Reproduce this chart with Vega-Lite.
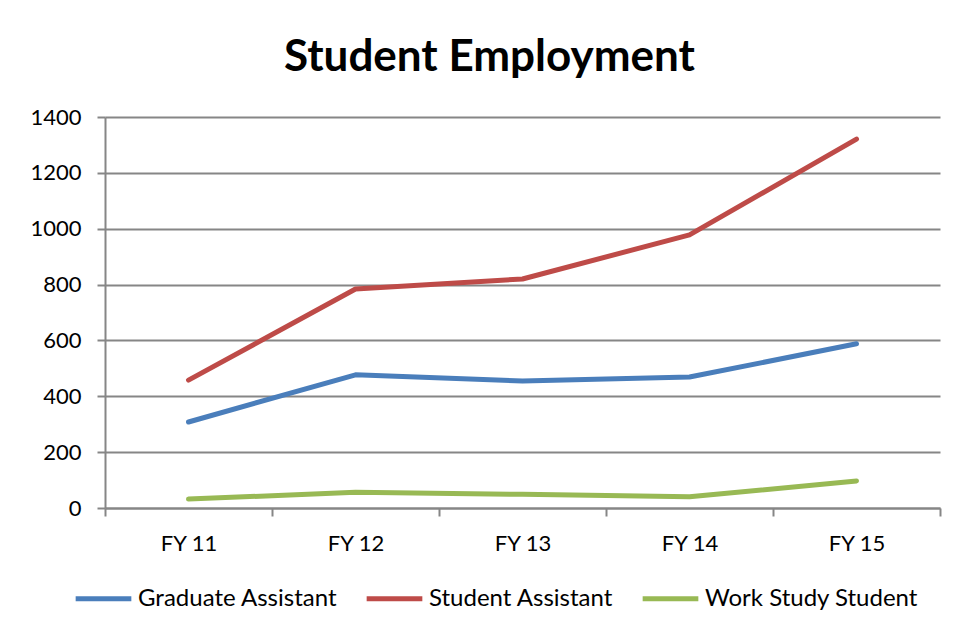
{
  "$schema": "https://vega.github.io/schema/vega-lite/v6.json",
  "width": 835,
  "height": 391,
  "autosize": {"type": "none"},
  "padding": {"left": 105, "top": 117, "right": 19, "bottom": 129},
  "background": "white",
  "title": {
    "text": "Student Employment",
    "font": "Lato",
    "fontSize": 44,
    "fontWeight": "bold",
    "color": "#000000",
    "anchor": "middle",
    "dx": -33,
    "offset": 26
  },
  "data": {
    "values": [
      {"year": "FY 11", "series": "Graduate Assistant", "value": 308},
      {"year": "FY 12", "series": "Graduate Assistant", "value": 477},
      {"year": "FY 13", "series": "Graduate Assistant", "value": 455},
      {"year": "FY 14", "series": "Graduate Assistant", "value": 469},
      {"year": "FY 15", "series": "Graduate Assistant", "value": 588},
      {"year": "FY 11", "series": "Student Assistant", "value": 458},
      {"year": "FY 12", "series": "Student Assistant", "value": 784},
      {"year": "FY 13", "series": "Student Assistant", "value": 820},
      {"year": "FY 14", "series": "Student Assistant", "value": 978},
      {"year": "FY 15", "series": "Student Assistant", "value": 1321},
      {"year": "FY 11", "series": "Work Study Student", "value": 32},
      {"year": "FY 12", "series": "Work Study Student", "value": 56},
      {"year": "FY 13", "series": "Work Study Student", "value": 49},
      {"year": "FY 14", "series": "Work Study Student", "value": 40},
      {"year": "FY 15", "series": "Work Study Student", "value": 97}
    ]
  },
  "mark": {"type": "line", "strokeWidth": 5, "strokeCap": "round", "strokeJoin": "round"},
  "encoding": {
    "x": {
      "field": "year",
      "type": "ordinal",
      "scale": {"type": "band", "paddingInner": 0, "paddingOuter": 0},
      "axis": {
        "title": null,
        "labelAngle": 0,
        "labelFont": "Lato",
        "labelFontSize": 22,
        "labelColor": "#000000",
        "labelPadding": 17,
        "domainColor": "#868686",
        "domainWidth": 2,
        "tickColor": "#868686",
        "tickWidth": 2,
        "tickSize": 8,
        "tickBand": "extent",
        "grid": false
      }
    },
    "y": {
      "field": "value",
      "type": "quantitative",
      "scale": {"domain": [0, 1400], "nice": false},
      "axis": {
        "title": null,
        "values": [0, 200, 400, 600, 800, 1000, 1200, 1400],
        "format": "d",
        "labelFont": "Lato",
        "labelFontSize": 22,
        "labelColor": "#000000",
        "labelPadding": 16,
        "domainColor": "#868686",
        "domainWidth": 2,
        "tickColor": "#868686",
        "tickWidth": 2,
        "tickSize": 8,
        "grid": true,
        "gridColor": "#868686",
        "gridWidth": 2
      }
    },
    "color": {
      "field": "series",
      "type": "nominal",
      "scale": {
        "domain": ["Graduate Assistant", "Student Assistant", "Work Study Student"],
        "range": ["#4a7ebb", "#be4b48", "#98b954"]
      },
      "legend": {
        "title": null,
        "orient": "none",
        "direction": "horizontal",
        "legendX": -32,
        "legendY": 451,
        "symbolType": "stroke",
        "symbolSize": 3100,
        "symbolStrokeWidth": 5,
        "labelFont": "Lato",
        "labelFontSize": 24,
        "labelColor": "#000000",
        "labelOffset": 4,
        "columnPadding": 18,
        "labelLimit": 400
      }
    }
  },
  "config": {
    "view": {"stroke": null}
  }
}
